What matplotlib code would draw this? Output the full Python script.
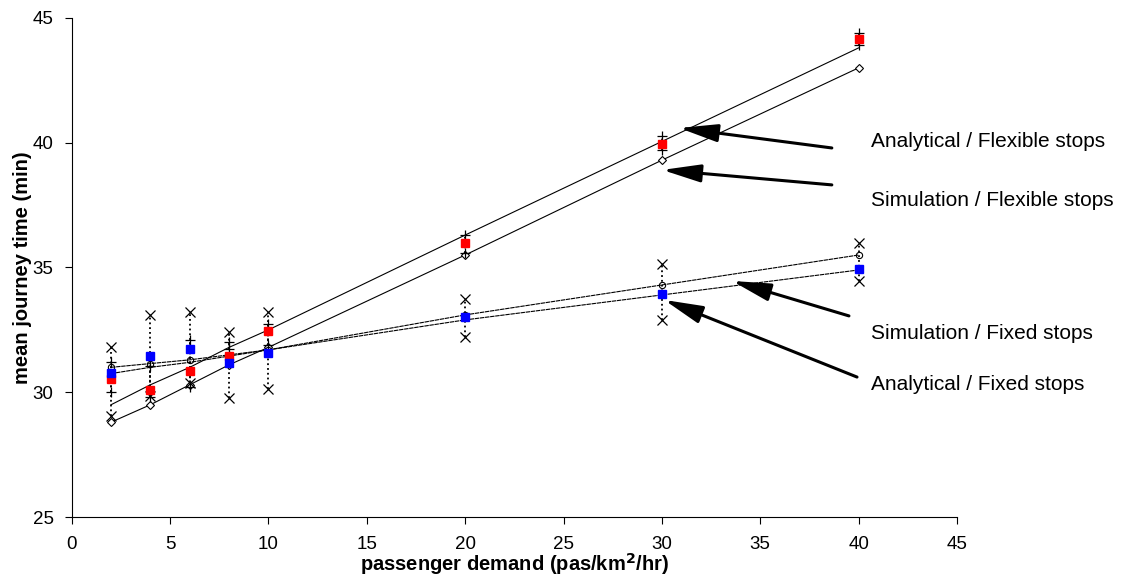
import matplotlib.pyplot as plt

plt.rcParams['font.family'] = ['Liberation Sans', 'DejaVu Sans']

# demand levels (pas/km2/hr)
demand = [2, 4, 6, 8, 10, 20, 30, 40]

# line series
flex_upper = [29.5, 30.3, 31.0, 31.8, 32.5, 36.3, 40.05, 43.8]
flex_lower = [28.8, 29.5, 30.3, 31.1, 31.8, 35.5, 39.3, 43.0]
fixed_upper = [31.0, 31.15, 31.3, 31.5, 31.7, 33.1, 34.3, 35.5]
fixed_lower = [30.75, 31.0, 31.2, 31.45, 31.7, 32.9, 33.9, 34.9]

# simulation means
sim_flex_mean = [30.53, 30.09, 30.85, 31.47, 32.47, 35.99, 39.95, 44.15]
sim_fixed_mean = [30.77, 31.45, 31.73, 31.16, 31.59, 33.0, 33.93, 34.94]

# confidence limits
fixed_hi = [31.83, 33.1, 33.2, 32.4, 33.23, 33.75, 35.15, 36.0]
fixed_lo = [29.05, 29.85, 30.38, 29.78, 30.12, 32.2, 32.9, 34.45]
flex_hi = [31.22, 31.05, 32.1, 32.0, 32.75, 36.3, 40.25, 44.4]
flex_lo = [30.0, 29.82, 30.2, 31.72, 31.9, 35.6, 39.7, 43.9]

labels = ["Analytical / Flexible stops", "Simulation / Flexible stops",
          "Simulation / Fixed stops", "Analytical / Fixed stops"]
label_y = [40.03, 37.67, 32.37, 30.33]
arrow_tail = [(38.64, 39.79), (38.64, 38.31), (39.51, 33.06), (39.92, 30.61)]
arrow_head = [(30.88, 40.59), (30.02, 38.91), (33.57, 34.46), (30.12, 33.70)]

fig = plt.figure(figsize=(11.22, 5.79), dpi=100)
ax = fig.add_axes([0.0639, 0.107, 0.789, 0.862])

# vertical high-low lines
for i, x in enumerate(demand):
    ax.plot([x, x], [fixed_lo[i], fixed_hi[i]], color='black', lw=1.3, ls=':', zorder=2)
    ax.plot([x, x], [flex_lo[i], flex_hi[i]], color='black', lw=1.3, ls=':', zorder=2)

ax.plot(demand, flex_upper, color='black', lw=0.8, zorder=3)
ax.plot(demand, flex_lower, color='black', lw=0.8, marker='D', ms=4,
        mfc='white', mec='black', mew=0.8, zorder=3)
ax.plot(demand, fixed_upper, color='black', lw=0.8, marker='o', ms=4.5,
        mfc='none', mec='black', mew=0.8, zorder=3, ls=(0, (4, 0.6)))
ax.plot(demand, fixed_lower, color='black', lw=0.8, zorder=3, ls=(0, (4, 0.6)))

ax.plot(demand, fixed_hi, ls='none', marker='x', ms=7, color='black', mew=0.9, zorder=4)
ax.plot(demand, fixed_lo, ls='none', marker='x', ms=7, color='black', mew=0.9, zorder=4)
ax.plot(demand, flex_hi, ls='none', marker='+', ms=7, color='black', mew=0.9, zorder=4)
ax.plot(demand, flex_lo, ls='none', marker='+', ms=7, color='black', mew=0.9, zorder=4)

ax.plot(demand, sim_flex_mean, ls='none', marker='s', ms=6, color='#ff0000', zorder=5)
ax.plot(demand, sim_fixed_mean, ls='none', marker='s', ms=6, color='#0000ff', zorder=5)

for lab, ly, tail, head in zip(labels, label_y, arrow_tail, arrow_head):
    ax.text(40.62, ly, lab, fontsize=15, va='center', ha='left', clip_on=False)
    ax.annotate('', xy=head, xytext=tail, annotation_clip=False,
                arrowprops=dict(arrowstyle='-|>,head_length=1.3,head_width=0.3',
                                lw=2.2, color='black', mutation_scale=18,
                                shrinkA=0, shrinkB=0))

ax.set_xlim(0, 45)
ax.set_ylim(25, 45)
ax.set_xticks(range(0, 46, 5))
ax.set_yticks(range(25, 46, 5))
ax.spines['top'].set_visible(False)
ax.spines['right'].set_visible(False)
ax.tick_params(direction='out', length=5, labelsize=13.5)
ax.tick_params(axis='x', pad=9)
ax.tick_params(axis='y', pad=8)
ax.set_xlabel('passenger demand (pas/km$^{\\mathbf{2}}$/hr)', fontsize=14.5, fontweight='bold', va='center')
ax.xaxis.set_label_coords(0.5, -0.095)
ax.set_ylabel('mean journey time (min)', fontsize=14.5, fontweight='bold', va='center')
ax.yaxis.set_label_coords(-0.056, 0.5)

fig.savefig('out.png', dpi=100)
